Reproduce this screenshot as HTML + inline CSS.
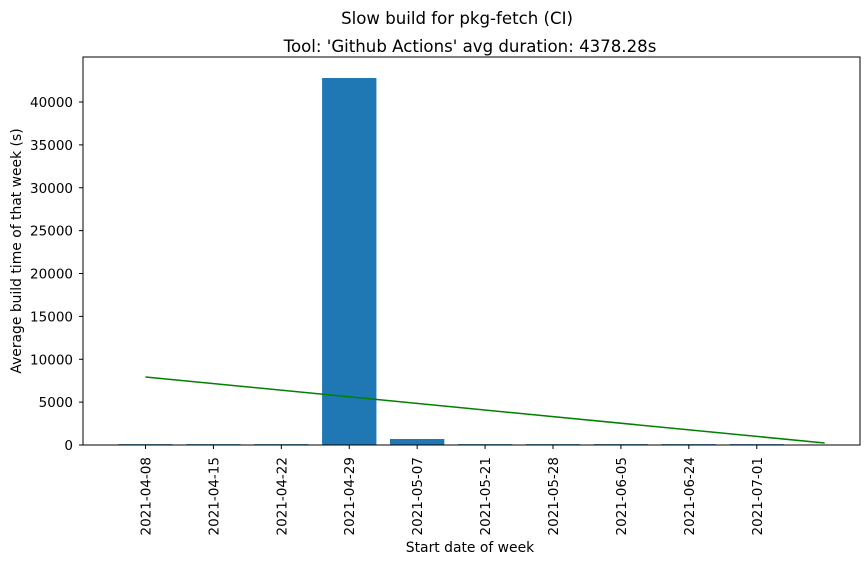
<!DOCTYPE html>
<html><head><meta charset="utf-8"><style>
body{margin:0;background:#fff;}
svg{display:block;font-family:"DejaVu Sans","Liberation Sans",sans-serif;}
</style></head><body>
<svg id="chart" width="868" height="564">
<text x="457" y="24" font-size="16.6" text-anchor="middle">Slow build for pkg-fetch (CI)</text>
<text x="470" y="52" font-size="16.6" text-anchor="middle">Tool: 'Github Actions' avg duration: 4378.28s</text>
<text transform="translate(21,251) rotate(-90)" font-size="13.9" text-anchor="middle">Average build time of that week (s)</text>
<text x="470" y="552" font-size="13.9" text-anchor="middle">Start date of week</text>
<g id="plot"></g>
</svg>
<script>
const categories=["2021-04-08","2021-04-15","2021-04-22","2021-04-29","2021-05-07","2021-05-21","2021-05-28","2021-06-05","2021-06-24","2021-07-01"];
const values=[100,100,100,42800,700,100,100,100,100,100];
const trendStart=7930;
const trendEnd=230;
const yTicks=[0,5000,10000,15000,20000,25000,30000,35000,40000];
const L=83,R=860,T=57,B=445;
const xmin=-0.92,xmax=10.52,ymax=45250;
const xs=v=>L+(v-xmin)/(xmax-xmin)*(R-L);
const ys=v=>B-v/ymax*(B-T);
const ns="http://www.w3.org/2000/svg";
const g=document.getElementById('plot');
function mk(t,a){const e=document.createElementNS(ns,t);for(const k in a)e.setAttribute(k,a[k]);g.appendChild(e);return e;}
values.forEach((v,i)=>{
 const r=mk('rect',{x:xs(i-0.4),y:ys(v),width:xs(0.4)-xs(-0.4),height:B-ys(v),fill:'#1f77b4'});
 
 
 const tk=mk('line',{x1:xs(i),x2:xs(i),y1:B,y2:B+4,stroke:'#000'});
 
 
 const t=mk('text',{transform:`translate(${xs(i)+5},${B+12}) rotate(-90)`,'font-size':'13.5','text-anchor':'end'});
 t.textContent=categories[i];
 
 
});
const ln=mk('line',{x1:xs(0),y1:ys(trendStart),x2:xs(categories.length),y2:ys(trendEnd),stroke:'#008000','stroke-width':1.5});


yTicks.forEach(v=>{
 const tk=mk('line',{x1:L-4,x2:L,y1:ys(v),y2:ys(v),stroke:'#000'});
 
 
 const t=mk('text',{x:L-10,y:ys(v)+5,'font-size':'13.5','text-anchor':'end'});
 t.textContent=v;
 
 
});
const fr=mk('rect',{x:L,y:T,width:R-L,height:B-T,fill:'none',stroke:'#000','stroke-width':1});


</script>
</body></html>
